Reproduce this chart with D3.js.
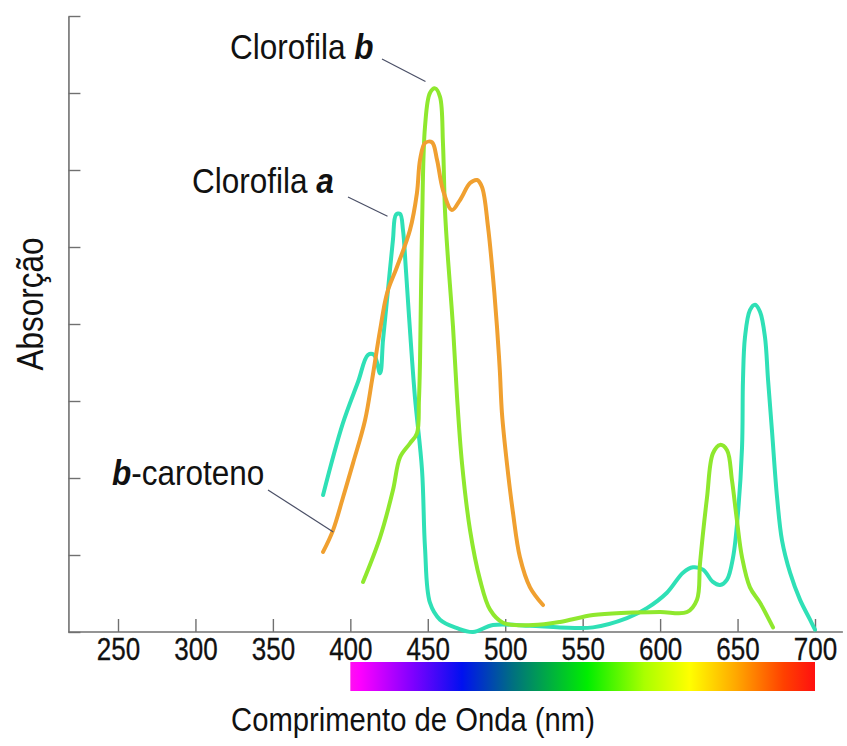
<!DOCTYPE html>
<html>
<head>
<meta charset="utf-8">
<script src="https://cdn.jsdelivr.net/npm/d3@7"></script>
<style>
  html, body { margin: 0; padding: 0; background: #fff; }
  svg { display: block; }
  text { font-family: "Liberation Sans", Arial, sans-serif; fill: #111; }
</style>
</head>
<body>
<svg id="chart" width="847" height="746"></svg>
<script>
// ---------- DATA ----------
const xTicks = [250, 300, 350, 400, 450, 500, 550, 600, 650, 700];
const yTicks = [0, 1, 2, 3, 4, 5, 6, 7, 8];

// Clorofila a (turquoise)  [wavelength nm, absorption]
const chlA = [
  [382.4,1.78],[395,2.70],[405,3.25],[411.4,3.60],[415.3,3.60],[419.2,3.36],[421.1,3.79],
  [424.3,4.44],[427.5,5.09],[429.5,5.42],[432.1,5.43],[434.0,5.22],[435.9,4.70],[438.5,3.92],
  [441.7,3.05],[446.3,2.10],[448.2,1.10],[451.4,0.38],[457.9,0.16],[468.9,0.05],[479.2,0.0],
  [492.1,0.09],[516.0,0.08],[535.4,0.06],[556.7,0.06],[578.6,0.18],[591.5,0.31],[604.4,0.51],
  [614.8,0.77],[621.2,0.84],[627.7,0.81],[634.1,0.65],[638.7,0.61],[643.2,0.68],[647.1,0.97],
  [650.3,1.55],[652.9,2.40],[653.5,3.27],[654.8,3.83],[658.0,4.18],[661.3,4.25],[664.5,4.16],
  [667.7,3.83],[669.7,3.27],[672.2,2.62],[675.5,1.75],[678.7,1.19],[683.9,0.77],[690.3,0.42],
  [696.8,0.16],[700.0,0.03]
];

// Clorofila b (light green)
const chlB = [
  [408.2,0.65],[419.2,1.23],[427.5,1.84],[432.1,2.27],[438.5,2.45],[443.0,2.58],[444.3,3.01],
  [445.0,3.53],[446.3,5.26],[448.2,6.56],[451.4,7.00],[454.7,7.06],[457.9,6.95],[459.8,6.35],
  [461.1,5.48],[463.1,4.83],[466.3,3.96],[468.9,3.05],[472.1,2.19],[477.3,1.32],[483.7,0.68],
  [490.2,0.29],[498.6,0.12],[517.9,0.09],[535.4,0.13],[556.7,0.22],[578.6,0.25],[599.9,0.26],
  [617.4,0.26],[623.8,0.42],[625.8,0.90],[630.3,1.75],[634.1,2.32],[638.7,2.43],[643.2,2.36],
  [646.4,1.97],[649.6,1.45],[652.9,0.97],[658.0,0.58],[664.5,0.38],[672.9,0.06]
];

// b-caroteno (orange)
const carot = [
  [382.4,1.04],[388.8,1.32],[395.3,1.75],[401.7,2.19],[409.5,2.75],[414.0,3.27],[419.2,3.92],
  [423.7,4.40],[430.1,4.74],[438.5,5.22],[443.0,5.70],[445.0,6.13],[448.2,6.35],[452.7,6.36],
  [456.0,6.13],[459.8,5.74],[465.6,5.48],[470.8,5.61],[477.3,5.83],[481.8,5.87],[485.0,5.78],
  [488.9,5.26],[492.1,4.61],[494.7,3.96],[496.5,3.40],[497.9,2.84],[501.1,2.19],[505.0,1.55],
  [509.5,0.97],[516.0,0.58],[524.4,0.35]
];

// spectrum colour bar stops [wavelength, colour]
const spectrumStops = [
  [400,"#ff10f0"],[406,"#ff00ff"],[440,"#8000ff"],[472,"#0010f0"],[505,"#007080"],
  [553,"#00ee00"],[590,"#aaff00"],[619,"#ffff00"],[649,"#ffa800"],[680,"#ff4000"],[700,"#ff1010"]
];

const seriesNames = ["Clorofila a", "Clorofila b", "b-caroteno"];
const seriesColors = ["#2fe0b6", "#8fe82e", "#f0a030"];

// ---------- CHART ----------
const svg = d3.select("#chart");
const x = d3.scaleLinear().domain([250, 700]).range([118, 815]);
const y = d3.scaleLinear().domain([0, 8]).range([632, 16]);

// y axis
const yAxis = d3.axisLeft(y).tickValues(yTicks).tickSizeInner(-12).tickSizeOuter(0).tickFormat("");
const gy = svg.append("g").attr("transform", `translate(${x(218)},0)`).call(yAxis);
gy.select(".domain").attr("stroke", "#707070").attr("stroke-width", 1.6);
gy.selectAll(".tick line").attr("stroke", "#707070").attr("stroke-width", 1.4);

// x axis
const xAxis = d3.axisBottom(x).tickValues(xTicks).tickSizeInner(-13).tickSizeOuter(0).tickPadding(6);
const gx = svg.append("g").attr("transform", `translate(0,${y(0)})`).call(xAxis);
gx.select(".domain").remove();
gx.append("line").attr("x1", x(218)).attr("x2", x(718)).attr("y1", 0).attr("y2", 0)
  .attr("stroke", "#707070").attr("stroke-width", 1.6);
gx.selectAll(".tick line").attr("stroke", "#707070").attr("stroke-width", 1.4);
gx.selectAll(".tick text")
  .attr("font-family", "'Liberation Sans', Arial, sans-serif")
  .attr("font-size", 31).attr("fill", "#111").attr("stroke", "#111").attr("stroke-width", 0.3)
  .attr("transform", "scale(0.84,1)");

// spectrum bar
const defs = svg.append("defs");
const grad = defs.append("linearGradient").attr("id", "spec")
  .attr("x1", "0%").attr("x2", "100%").attr("y1", "0%").attr("y2", "0%");
grad.selectAll("stop").data(spectrumStops).enter().append("stop")
  .attr("offset", d => ((d[0] - 400) / 300 * 100) + "%")
  .attr("stop-color", d => d[1]);
svg.append("rect").attr("x", x(400)).attr("y", 662)
  .attr("width", x(700) - x(400)).attr("height", 29).attr("fill", "url(#spec)");

// curves
const line = d3.line().x(d => x(d[0])).y(d => y(d[1])).curve(d3.curveCatmullRom.alpha(0.5));
[chlA, chlB, carot].forEach((s, i) => {
  svg.append("path").datum(s).attr("d", line)
    .attr("fill", "none").attr("stroke", seriesColors[i])
    .attr("stroke-width", 4).attr("stroke-linejoin", "round").attr("stroke-linecap", "round");
});

// annotations
const ann = svg.append("g");
function label(tx, ty, main, em, before) {
  const t = ann.append("text").attr("transform", `translate(${tx},${ty}) scale(0.9,1)`)
    .attr("font-size", 35).attr("fill", "#111");
  if (before) {
    t.append("tspan").attr("font-style", "italic").attr("font-weight", "bold").text(em);
    t.append("tspan").text(main);
  } else {
    t.append("tspan").text(main);
    t.append("tspan").attr("font-style", "italic").attr("font-weight", "bold").text(em);
  }
}
function leader(x1, y1, pt) {
  ann.append("line").attr("x1", x1).attr("y1", y1).attr("x2", x(pt[0])).attr("y2", y(pt[1]))
    .attr("stroke", "#4a4f66").attr("stroke-width", 1.2);
}
label(230, 59, "Clorofila ", "b", false);
leader(382, 59, [448.5, 7.15]);
label(192, 193, "Clorofila ", "a", false);
leader(348, 197, [424, 5.4]);
label(112, 485, "-caroteno", "b", true);
leader(268, 490, [389, 1.3]);

// axis titles
svg.append("text").attr("transform", "translate(413,731) scale(0.86,1)").attr("text-anchor", "middle")
  .attr("font-size", 34).text("Comprimento de Onda (nm)");
svg.append("text").attr("transform", "translate(43,304) rotate(-90) scale(0.85,1)").attr("text-anchor", "middle")
  .attr("font-size", 37).text("Absorção");
</script>
</body>
</html>
